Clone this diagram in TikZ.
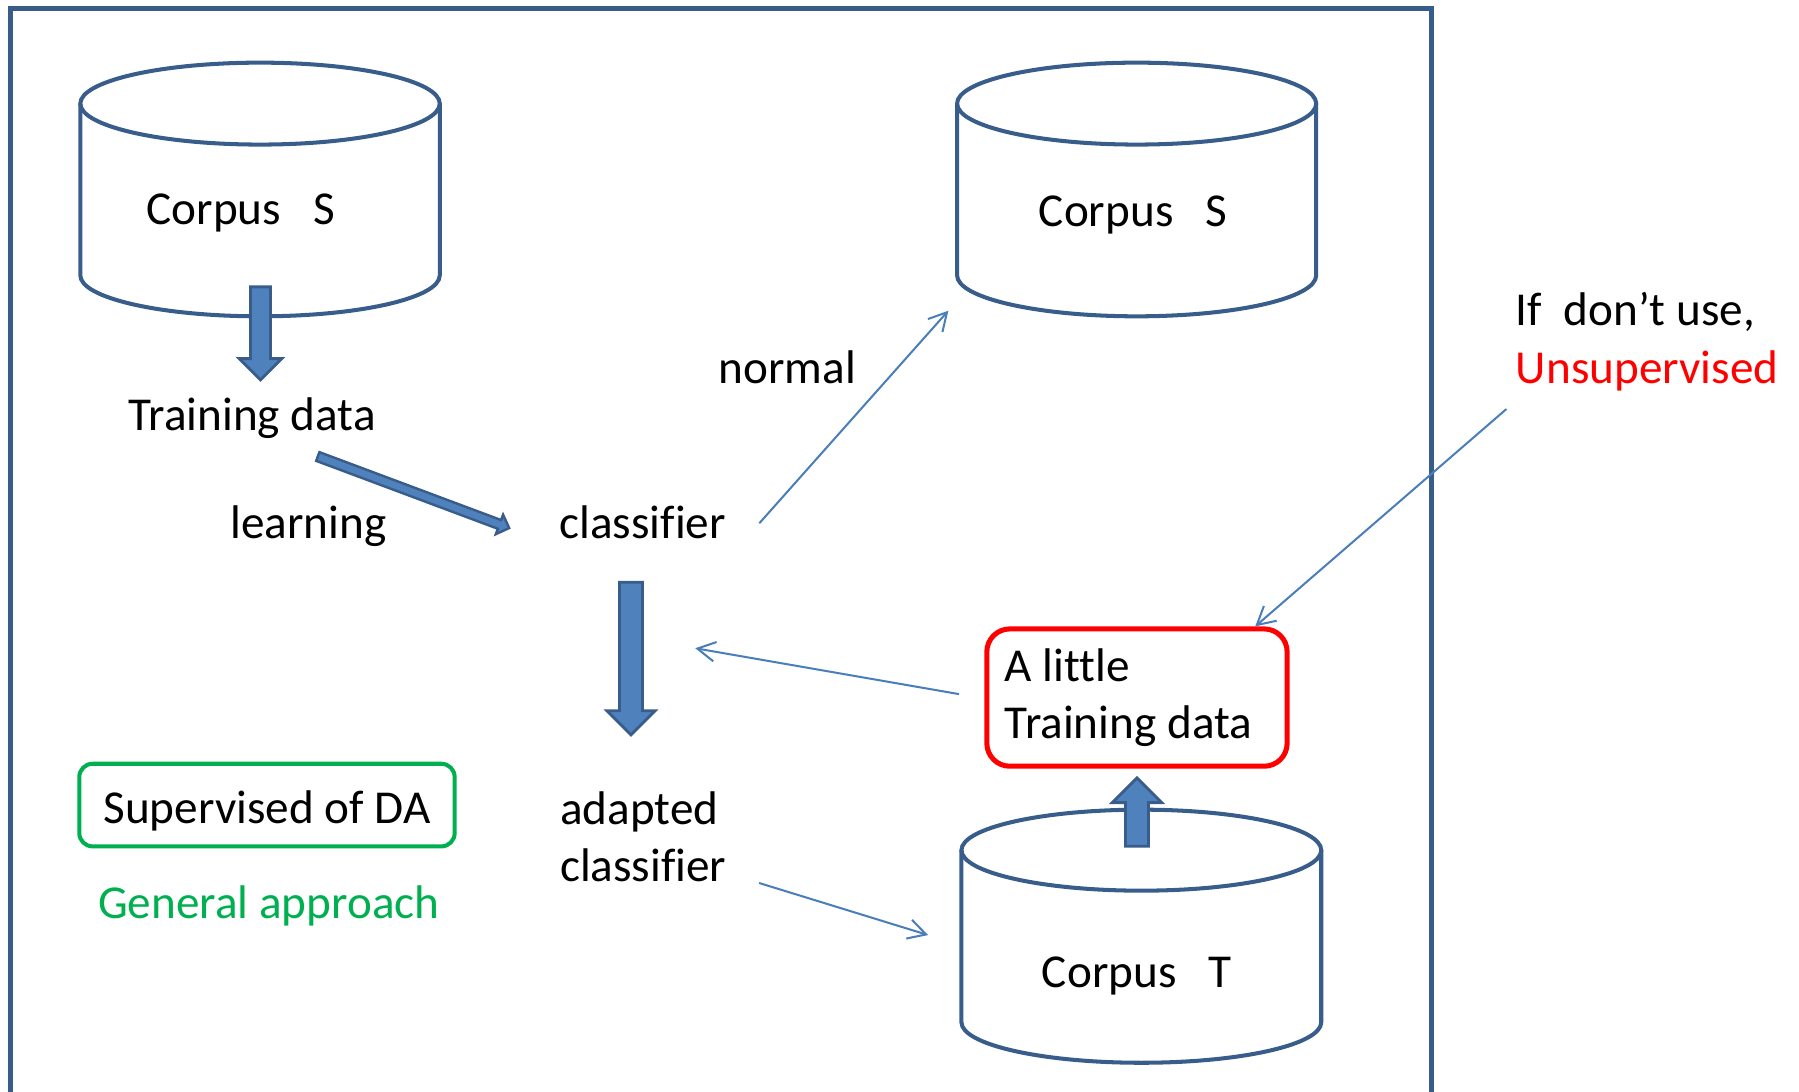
\documentclass[tikz,border=0pt]{standalone}
\usepackage{fontspec}
\setmainfont{Carlito}[Ligatures=NoCommon]
\usepackage{xcolor}
\usepackage{tikz}
\usetikzlibrary{arrows.meta,shapes.arrows}
\definecolor{dbline}{RGB}{56,93,138}
\definecolor{dbfill}{RGB}{79,129,189}
\definecolor{thinblue}{RGB}{74,126,187}
\definecolor{okgreen}{RGB}{0,176,80}
\definecolor{warnred}{RGB}{255,0,0}
\frenchspacing

\begin{document}
\begin{tikzpicture}[x=0.01cm, y=-0.01cm, font=\fontsize{11.7}{14.3}\selectfont,
  lbl/.style={inner sep=0pt},
  db/.style={draw=dbline, line width=1pt},
  fatarrow/.style={single arrow, draw=dbline, fill=dbfill, line width=0.7pt, inner xsep=0pt, anchor=tail},
  link/.style={thinblue, line width=0.5pt, -{Straight Barb[length=1.55mm, width=1.7mm]}}]
\useasboundingbox (0,0) rectangle (1568,951);
\draw[dbline, line width=1.25pt] (9.5,7.5) rectangle (1247.3,1000);

% the three corpora
\draw[db] (70,90.3) -- (70,240) arc[start angle=180, end angle=0, x radius=156.65, y radius=35.7] -- (383.3,90.3);
\draw[db] (226.65,90.3) ellipse[x radius=156.65, y radius=35.7];
\node[lbl, anchor=base] (corpusSL) at (209.9,196) {Corpus~~~S};

\draw[db] (834.2,90.3) -- (834.2,240) arc[start angle=180, end angle=0, x radius=156.5, y radius=35.7] -- (1147.2,90.3);
\draw[db] (990.7,90.3) ellipse[x radius=156.5, y radius=35.7];
\node[lbl, anchor=base] (corpusSR) at (987.6,197.6) {Corpus~~~S};

\draw[db] (838,741) -- (838,891) arc[start angle=180, end angle=0, x radius=156.8, y radius=35.3] -- (1151.6,741);
\draw[db] (994.8,741) ellipse[x radius=156.8, y radius=35.3];
\node[lbl, anchor=base] (corpusT) at (990.8,861) {Corpus~~~T};

\node[lbl, anchor=base] (train) at (219.8,374.8) {Training data};
\node[lbl, anchor=base] (learn) at (268.7,469.2) {learning};
\node[lbl, anchor=base] (clf) at (560.2,469.2) {classifier};
\node[lbl, anchor=base] (normal) at (686.3,334) {normal};
\node[lbl, anchor=base west, align=left] (adapted) at (487.5,768.5) {adapted\\classifier};

\node[draw=warnred, line width=1.25pt, rounded corners=0.2cm, minimum width=2.616cm, minimum height=1.196cm,
  text width=2.3cm, align=left, inner xsep=0.158cm] (little) at (991,608) {\spaceskip=0pt\relax A little\\Training data};
\node[draw=okgreen, line width=1pt, rounded corners=0.116cm, minimum width=3.27cm, minimum height=0.72cm,
  text height=0.40cm, text depth=0.082cm] (sup) at (232.7,701.7) {Supervised of DA};
\node[lbl, anchor=base, text=okgreen] (general) at (234.2,800.4) {General approach};
\node[lbl, anchor=base west, align=left] (hint) at (1320.6,334) {If~~don’t use,\\\textcolor{warnred}{Unsupervised}};

% block arrows
\node[fatarrow, rotate=-90, inner ysep=0.075cm, single arrow head extend=0.0975cm, minimum height=0.81cm] (toTrain) at (227,248.8) {};
\node[fatarrow, rotate=-20.5, inner ysep=0.03cm, single arrow head extend=0.05cm, minimum height=1.78cm, line width=0.6pt] (learnArrow) at (276,397.5) {};
\node[fatarrow, rotate=-90, inner ysep=0.0875cm, single arrow head extend=0.11cm, minimum height=1.33cm] (adaptArrow) at (550,506.2) {};
\node[fatarrow, rotate=90, inner ysep=0.0875cm, single arrow head extend=0.115cm, minimum height=0.595cm] (pickArrow) at (991,738.8) {};

% thin connectors
\coordinate (clfOut) at (661.8,456.1);
\coordinate (normIn) at (826.6,270.8);
\coordinate (adaOut) at (661.6,769.6);
\coordinate (tIn) at (809,815);
\coordinate (clfIn) at (606,565);
\coordinate (hintOut) at (1313,356.5);
\draw[link] (clfOut) -- (normIn);
\draw[link] ([shift={(-0.22cm,0.03cm)}]little.west) -- (clfIn);
\draw[link] (adaOut) -- (tIn);
\draw[link] (hintOut) -- ([xshift=-0.3cm]little.north east);
\end{tikzpicture}
\end{document}
